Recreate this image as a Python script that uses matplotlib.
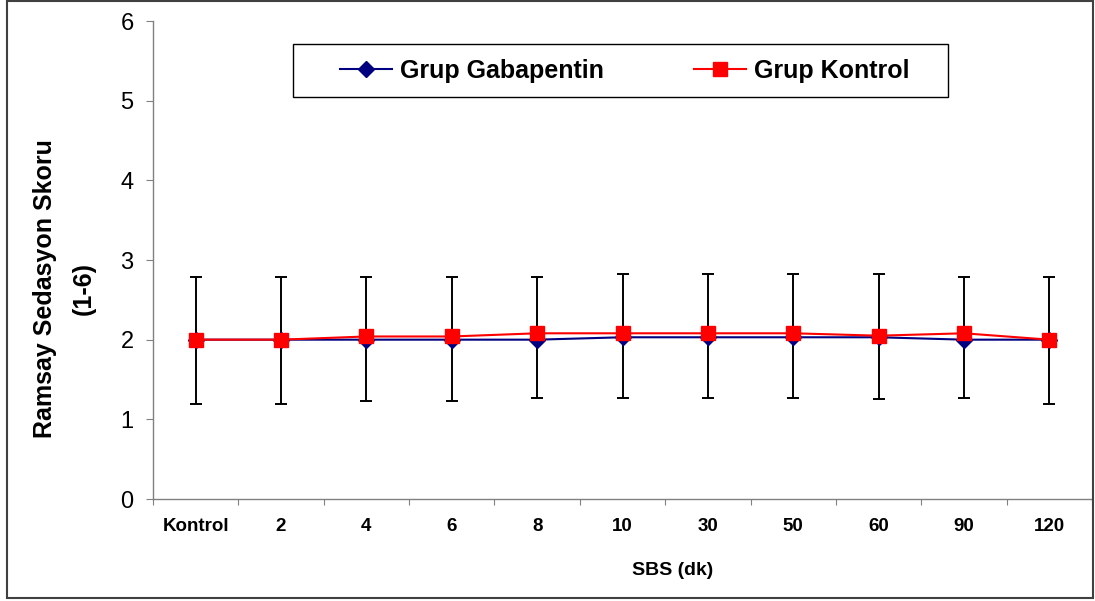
import numpy as np
import matplotlib
matplotlib.use("Agg")
import matplotlib.pyplot as plt
from matplotlib.patches import Rectangle

plt.rcParams['font.family'] = ['Liberation Sans', 'DejaVu Sans']

# data
zamanlar = ['Kontrol', '2', '4', '6', '8', '10', '30', '50', '60', '90', '120']
gabapentin = [2.0, 2.0, 2.0, 2.0, 2.0, 2.03, 2.03, 2.03, 2.03, 2.0, 2.0]
kontrol = [2.0, 2.0, 2.04, 2.04, 2.08, 2.08, 2.08, 2.08, 2.05, 2.08, 2.0]
# error bar ends (upper / lower)
hata_ust = [2.79, 2.79, 2.79, 2.79, 2.79, 2.83, 2.83, 2.83, 2.83, 2.79, 2.79]
hata_alt = [1.19, 1.19, 1.23, 1.23, 1.27, 1.27, 1.27, 1.27, 1.25, 1.27, 1.19]

x = np.arange(len(zamanlar))
gaba = np.array(gabapentin)
yerr = [gaba - np.array(hata_alt), np.array(hata_ust) - gaba]

fig = plt.figure(figsize=(10.95, 6.01), dpi=100)
ax = fig.add_axes([153 / 1095, 102 / 601, 939 / 1095, 478 / 601])

# error bars behind the markers
ax.errorbar(x, gaba, yerr=yerr, fmt='none', ecolor='black', elinewidth=1.4,
            capsize=4.5, capthick=1.4, zorder=2)
ax.plot(x, gabapentin, color='#000080', lw=1.5, marker='D', ms=8,
        label='Grup Gabapentin', zorder=3)
ax.plot(x, kontrol, color='#FF0000', lw=1.5, marker='s', ms=9.5,
        label='Grup Kontrol', zorder=4)

ax.set_xlim(-0.5, len(zamanlar) - 0.5)
ax.set_ylim(0, 6)
ax.set_yticks(range(0, 7))
ax.tick_params(axis='y', labelsize=17, length=5, width=0.8, color='#808080', pad=9)

ax.set_xticks(x)
ax.set_xticklabels(zamanlar, fontsize=13.5, fontweight='bold')
ax.set_xticks(np.arange(-0.5, len(zamanlar)), minor=True)
ax.tick_params(axis='x', which='major', length=0, pad=14)
ax.tick_params(axis='x', which='minor', length=4, width=0.8, color='#808080')

for s in ['top', 'right']:
    ax.spines[s].set_visible(False)
for s in ['left', 'bottom']:
    ax.spines[s].set_color('#808080')
    ax.spines[s].set_linewidth(1.0)

ax.set_xlabel('SBS (dk)', fontsize=14, fontweight='bold')
ax.xaxis.set_label_coords(0.553, -0.149)
ax.xaxis.label.set_verticalalignment('center')

ax.set_ylabel('Ramsay Sedasyon Skoru\n(1-6)', fontsize=18, fontweight='bold',
              linespacing=1.8)
ax.yaxis.set_label_coords(-0.0945, 0.441)
ax.yaxis.label.set_verticalalignment('center')

# legend with its own frame box
leg = ax.legend(loc='center', bbox_to_anchor=(0.502, 0.896), ncol=2, frameon=False,
                prop={'size': 18, 'weight': 'bold'}, handlelength=2.1,
                handletextpad=0.3, columnspacing=3.6)
ax.add_patch(Rectangle((0.149, 0.841), 0.698, 0.111, transform=ax.transAxes,
                       fill=False, edgecolor='black', lw=1.0, zorder=5))

# outer chart border
fig.patches.append(Rectangle((7 / 1095, 3 / 601), 1085.5 / 1095, 597 / 601,
                             transform=fig.transFigure, fill=False,
                             edgecolor='#404040', lw=1.5))

fig.savefig('out.png', dpi=100)
